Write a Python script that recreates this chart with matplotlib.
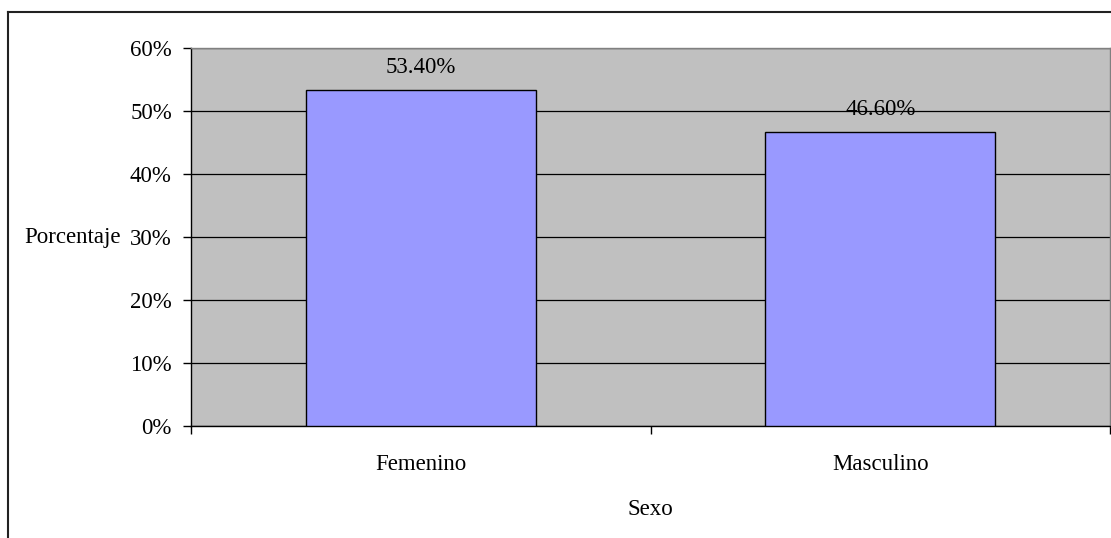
import matplotlib.pyplot as plt
from matplotlib.lines import Line2D
from matplotlib.ticker import FixedLocator

# --- DATA ---
categories = ["Femenino", "Masculino"]
values = [53.40, 46.60]
y_ticks = [0, 10, 20, 30, 40, 50, 60]

W, H = 1111, 538
FS = 16.5
plt.rcParams["font.family"] = ["Liberation Serif", "DejaVu Serif"]

fig = plt.figure(figsize=(W / 100, H / 100), dpi=100)
ax = fig.add_axes([191 / W, (H - 426) / H, (1110 - 191) / W, (426 - 48) / H])
ax.set_facecolor("#C0C0C0")

# --- GRID ---
ax.set_axisbelow(True)
ax.yaxis.grid(True, color="black", linewidth=0.9)

# --- BARS ---
x = range(len(categories))
ax.bar(x, values, width=0.5, color="#9999FF", edgecolor="black", linewidth=1.0, zorder=3)
for xi, v in zip(x, values):
    ax.annotate(f"{v:.2f}%", (xi, v), xytext=(0, 12), textcoords="offset pixels",
                ha="center", va="bottom", fontsize=FS, zorder=4)

# --- AXES ---
ax.set_xlim(-0.5, 1.5)
ax.set_ylim(0, 60)
ax.set_yticks(y_ticks)
ax.set_yticklabels([f"{t}%" for t in y_ticks], fontsize=FS)
ax.tick_params(axis="y", direction="out", length=5.8, width=1, pad=8)

ax.xaxis.set_major_locator(FixedLocator([-0.5, 0.5, 1.5]))
ax.xaxis.set_minor_locator(FixedLocator(list(x)))
ax.xaxis.set_major_formatter(plt.NullFormatter())
ax.set_xticklabels(categories, minor=True, fontsize=FS)
ax.tick_params(axis="x", which="major", direction="out", length=5.5, width=1)
ax.tick_params(axis="x", which="minor", length=0, pad=20)

ax.spines["left"].set_color("black")
ax.spines["bottom"].set_color("black")
ax.spines["top"].set_color("#808080")
ax.spines["right"].set_color("#808080")
for s in ax.spines.values():
    s.set_linewidth(1.0)

ax.set_xlabel("Sexo", fontsize=FS, labelpad=17.5)
ax.text((121 - 191) / (1110 - 191), 30, "Porcentaje", transform=ax.get_yaxis_transform(),
        ha="right", va="center", fontsize=FS)

# --- FIGURE BORDER ---
fig.add_artist(Line2D([8 / W, 8 / W], [0, 1 - 12 / H], color="#222222", linewidth=1.5))
fig.add_artist(Line2D([8 / W, 1], [1 - 12 / H, 1 - 12 / H], color="#222222", linewidth=1.5))

fig.savefig("out.png", dpi=100)
